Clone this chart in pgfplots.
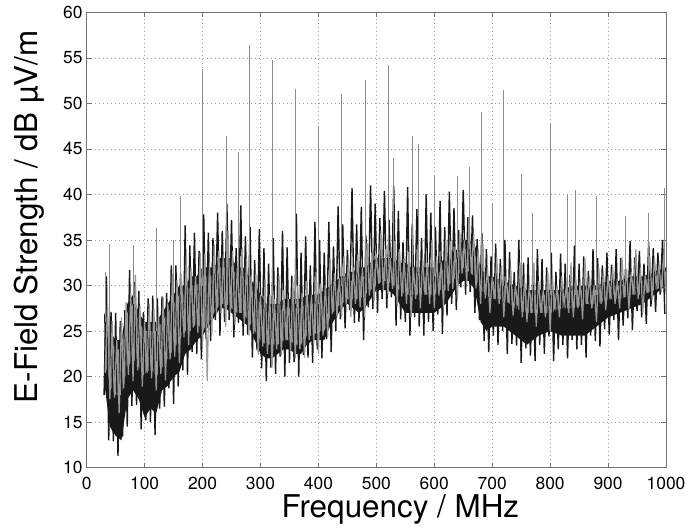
\documentclass[border=0pt]{standalone}
\usepackage{fontspec}
\setmainfont{TeX Gyre Heros}
\usepackage{pgfplots}
\usepackage{pgfplotstable}
\pgfplotsset{compat=1.18}
\usepgfplotslibrary{fillbetween}

\definecolor{trace}{gray}{0.6}
\definecolor{dark}{gray}{0.1}
\definecolor{axisgray}{gray}{0.45}

% dense cores of the two traces: black from Lc to Gu, grey from Ga to Gb
\pgfplotstableread{
x Lc Ga Gb Gu
30 19.5 22 26 27
40 14.5 19 24 25
50 13.5 18 23 24
60 13 18 23 24
70 17.5 21 27 28
80 18.5 22 28 29
90 17.5 21 26 27
100 15.5 20 25 26
110 16.5 21 25 26
120 16 20 25 26
130 18.5 21 26 27
140 19 22 27 28
150 20 23 28 29
160 20.5 24 29 30
170 22.5 25 29 30
180 23 25 30 31
190 24 26 30 31
200 24.5 25 31 32
210 25.5 26 31 32
220 26.5 27 31 32
230 27.5 28 32 33
240 27.5 28 32 33
250 27 27.5 32 33
260 26.5 27 31 32
270 26 27 31 32
280 25.5 26 30 31
290 24 25 29 30
300 22.5 24 28 29
310 22 23.5 27 28
320 22 23.5 27 28
330 22.5 23.5 27 28
340 23 24 27.5 28.5
350 23 24 27.5 28.5
360 22.5 23.5 27.5 28.5
370 22.5 23.5 27.5 28.5
380 23.5 24.5 28 29
390 24 24.5 28 29
400 24 25 28 29
410 24 25 28.5 29.5
420 25.5 26.5 29 30
430 26.5 27.5 29.5 30.5
440 27.5 28 30 31
450 28 28.5 30.5 31.5
460 27.5 28.5 30.5 31.5
470 27 28.5 31 32
480 27.5 29 31 32
490 28.5 29.5 31.5 32.5
500 29.5 30 32 33
510 29.5 30.5 32 33
520 29.5 30.5 32 33
530 29 30 32 33
540 28 29.5 31.5 32.5
550 27 29 31.5 32.5
560 27 29 31 32
580 27 29 31 32
600 27 29 31 32
610 27.5 29.5 31.5 32.5
620 28 29.5 32 33
630 29 30.5 32.5 33.5
640 30 31 33 34
650 30.5 32 34 35
660 30.5 31.5 34 35
670 29.5 31 33.5 34.5
680 26 29.5 31 32
690 25 29 30 31
700 25.5 28.5 30.5 31
720 25.5 28.5 30 30.5
740 24.5 27.5 29.5 30
760 23.5 27 29 29.5
780 24.5 27 29 29.5
800 25 27 29 29.5
820 24.5 27.5 29 29.5
840 24.5 27.5 29.5 30
860 24.5 28 29.5 30
880 25.5 28 29.5 30
900 26.5 28.5 30 30.5
920 27 28.5 30 30.5
940 27.5 29 30.5 31
960 28 29 30.5 31
980 29 29.5 31 31.5
1000 30 30 31.5 32
}\envelope

% black trace (peak detector)
\pgfplotstableread{
x y
30 18
34 31
38 13
42 27.1
46 12.9
50 27
54 11.3
58 26.1
62 13.4
66 27.3
70 14.5
74 31.7
78 16.8
82 30.4
86 16.9
90 29.4
94 14.2
98 27.1
102 15.2
106 28.6
110 15
114 28.9
118 13.6
122 28.6
126 16.5
130 28.8
134 16.7
138 29.2
142 18.7
146 32.2
150 17
154 32.2
158 18.9
162 31.3
166 20.7
170 36.6
174 20.2
178 34.4
182 22.7
186 35.8
190 22.5
194 33.8
198 21.9
202 37.8
206 24.1
210 35.8
214 23.9
218 35.2
222 26.2
226 38
230 24.5
234 36
238 26
242 39
246 26.2
250 37.2
254 24.3
258 34.1
262 25.9
266 38.8
270 24.5
274 35.4
278 24.6
282 36.4
286 22.1
290 32.8
294 22.9
298 36.2
302 20.9
306 34.1
310 19.5
314 32.4
318 21
322 35.2
326 20.3
330 32
334 22.2
338 36
342 20
346 34.2
350 21.5
354 31.1
358 21.6
362 37.9
366 20
370 33.6
374 22.4
378 35.4
382 22.1
386 32.2
390 21.5
394 37
398 23
402 35
406 22
410 33.6
414 24.1
418 37
422 22.7
426 34.3
430 25
434 38.7
438 26.3
442 36.7
446 25.3
450 33.9
454 27.3
458 40.7
462 25.9
466 36.7
470 26
474 38.6
478 24
482 35.5
486 27.6
490 41
494 27.4
498 39
502 27
506 37.4
510 28.5
514 40.4
518 27.5
522 37.2
526 28.7
530 41
534 25.6
538 38.2
542 26.3
546 34.8
550 26
554 40.8
558 24.5
562 36.8
566 26.5
570 38.4
574 25.5
578 35.2
582 24.5
586 40
590 26
594 38
598 25
602 36.4
606 26.8
610 39.3
614 24.7
618 36.4
622 26.7
626 40.3
630 28
634 38.5
638 27.3
642 36.1
646 29.8
650 40.5
654 29
658 37.5
662 29.3
666 37.7
670 27
674 35.1
678 26.2
682 35.8
686 23.9
690 34
694 22.7
698 33.2
702 24.5
706 34.6
710 23.5
714 32.9
718 25
722 35
726 22.5
730 33.7
734 23.6
738 31.5
742 23.4
746 35
750 21.5
754 32.5
758 23.1
762 33.1
766 22.3
770 31.3
774 21.7
778 34
782 23.5
786 32.9
790 22.5
794 32
798 24.4
802 33.6
806 21.7
810 31.5
814 23
818 33.5
822 23.5
826 32.4
830 22
834 31.1
838 24
842 34.4
846 23
850 32.4
854 23.5
858 33.2
862 22.1
866 31.6
870 24.5
874 34
878 23.9
882 33
886 23.3
890 32.2
894 25.2
898 33.6
902 24.6
906 32.3
910 26.2
914 34
918 24
922 33
926 25.6
930 31.8
934 26.4
938 34.9
942 25.1
946 33.1
950 27.2
954 33.8
958 26.5
962 32.4
966 25.8
970 34.8
974 27.7
978 34.1
982 27.1
986 33.6
990 29
994 35
998 26.9
}\blackzig

% grey trace (average detector)
\pgfplotstableread{
x y
32 20.4
36 28
40 17.5
44 26.1
48 17.7
52 24
56 16
60 26.5
64 18.7
68 28.2
72 20.2
76 29.1
80 19.5
84 31.2
88 20.7
92 27.8
96 18.9
100 26
104 20.4
108 28
112 19.8
116 27.5
120 18.5
124 26.9
128 20.3
132 28.7
136 19.6
140 28
144 21.9
148 31.3
152 22.2
156 30.6
160 21.5
164 30.5
168 24.3
172 33.2
176 23.5
180 32
184 25.4
188 31
192 24.8
196 33.6
200 23.5
204 33.5
208 19.5
212 32.5
216 24.6
220 34.5
224 26.9
228 33.8
232 27
236 33.5
240 25.5
244 36
248 27.1
252 33.8
256 25.7
260 32
264 27
268 34
272 25.8
276 32.9
280 24.5
284 31.1
288 24.7
292 31.3
296 22.4
300 29
304 23.3
308 30.7
312 22.5
316 29
320 21
324 28.5
328 23
332 31.1
336 22.3
340 29.5
344 24
348 28.5
352 22.9
356 30.5
360 22
364 30
368 23
372 29.1
376 22.1
380 30.5
384 24
388 29
392 23.6
396 31.5
400 22.5
404 30.2
408 24.5
412 30.1
416 24.4
420 33
424 26.9
428 31.4
432 26.6
436 30.8
440 26.5
444 33.2
448 27.9
452 33
456 26.5
460 32
464 28
468 33.4
472 27.6
476 32
480 26.5
484 34.7
488 28.9
492 33.6
496 28.3
500 33.5
504 30.2
508 36
512 29.5
516 34
520 29
524 33
528 29.6
532 34.9
536 27.7
540 34
544 28.8
548 33
552 28
556 33.7
560 26.5
564 32
568 28.5
572 34.5
576 27.5
580 33
584 29
588 32.5
592 28
596 35
600 27.5
604 33.2
608 28.9
612 32.6
616 27.5
620 35
624 29.4
628 34.9
632 29.6
636 34.3
640 28.5
644 35.9
648 31.3
652 35
656 30.2
660 37.5
664 31.3
668 35.6
672 29.7
676 34
680 28
684 34.6
688 28.6
692 32
696 27
700 31
704 28.5
708 33
712 28
716 32.2
720 26.5
724 31
728 28.1
732 31.9
736 26.7
740 30
744 27.8
748 32.5
752 26.5
756 30.7
760 26
764 30
768 27
772 32.5
776 25.5
780 30.5
784 27
788 29.5
792 26.5
796 31.5
800 25
804 31
808 27.4
812 30
816 26.5
820 31
824 28
828 29.9
832 27
836 32.5
840 26.5
844 31
848 27.5
852 30.5
856 26.3
860 33
864 28
868 31
872 27.5
876 30
880 26
884 32
888 28
892 31.6
896 27.3
900 31
904 29
908 32
912 28
916 30.5
920 27.5
924 33.1
928 28.7
932 31.8
936 27.4
940 31.5
944 29
948 34
952 28.5
956 32
960 27
964 31.1
968 29.2
972 33.3
976 28.4
980 33
984 30.1
988 32.2
992 29.3
996 33.4
1000 29
}\grayzig

% single narrow-band emissions
\pgfplotstableread{
x y
33 26
33 31.5
33 nan
40 24
40 34.6
40 nan
80 28
80 34.5
80 nan
121 25
121 36.3
121 nan
150 28
150 35
150 nan
161 29
161 39.8
161 nan
200 30
200 53.8
200 nan
241 32
241 46.4
241 nan
262 31
262 44.7
262 nan
281 30
281 56.4
281 nan
320 27
320 54.8
320 nan
360 28
360 51.6
360 nan
400 28
400 47.5
400 nan
440 30
440 51
440 nan
481 31
481 52.6
481 nan
521 32
521 54.2
521 nan
530 32
530 44
530 nan
562 31
562 46.4
562 nan
573 31
573 45.5
573 nan
600 31
600 42
600 nan
640 33
640 42
640 nan
660 34
660 43
660 nan
682 31
682 49.1
682 nan
700 30
700 39
700 nan
720 30
720 51.5
720 nan
750 29
750 42.2
750 nan
770 29
770 38
770 nan
800 29
800 47.8
800 nan
830 29
830 40
830 nan
843 29
843 40.5
843 nan
880 29
880 39.8
880 nan
930 29
930 37.6
930 nan
970 30
970 38
970 nan
997 31
997 40.7
}\spikes

\begin{document}
\begin{tikzpicture}
\begin{axis}[
    name=ax,
    width=579.3bp, height=455.4bp, scale only axis,
    xmin=0, xmax=1000, ymin=10, ymax=60,
    xtick={0,100,...,1000}, ytick={10,15,...,60},
    grid=major,
    major grid style={draw=gray!80, line width=0.5bp, dash pattern=on 0.7bp off 3.3bp},
    tick align=inside, major tick length=5bp,
    tick style={axisgray, line width=0.6bp},
    axis line style={axisgray, line width=0.8bp},
    /pgf/number format/assume math mode=true,
    /pgf/number format/1000 sep={},
    ticklabel style={font=\fontsize{17.5}{18}\selectfont},
    xticklabel style={inner sep=0bp, yshift=-9.3bp},
    yticklabel style={inner sep=0bp, xshift=-4bp},
    xlabel={Frequency / MHz},
    ylabel={E-Field Strength / dB µV/m},
    label style={font=\fontsize{31.5}{32}\selectfont},
    xlabel style={at={(axis description cs:0.5414,-0.1083)}, anchor=base},
    ylabel style={at={(axis description cs:-0.0841,0.5505)}, anchor=base},
]
\addplot[name path=lo, draw=none] table[x=x, y=Lc]{\envelope};
\addplot[name path=hi, draw=none] table[x=x, y=Gu]{\envelope};
\addplot[name path=ga, draw=none] table[x=x, y=Ga]{\envelope};
\addplot[name path=gb, draw=none] table[x=x, y=Gb]{\envelope};
\addplot[fill=dark, draw=none] fill between[of=lo and hi];
\addplot[dark, line width=1.4bp] table[x=x, y=y]{\blackzig};
\addplot[fill=trace, draw=none] fill between[of=ga and gb];
\addplot[trace, line width=1.2bp] table[x=x, y=y]{\grayzig};
\addplot[gray!90, line width=0.8bp, unbounded coords=jump] table[x=x, y=y]{\spikes};
\end{axis}
\pgfresetboundingbox
\path ([shift={(-86.7bp,-61.3bp)}]ax.south west) rectangle ([shift={(22bp,12.3bp)}]ax.north east);
\end{tikzpicture}
\end{document}
